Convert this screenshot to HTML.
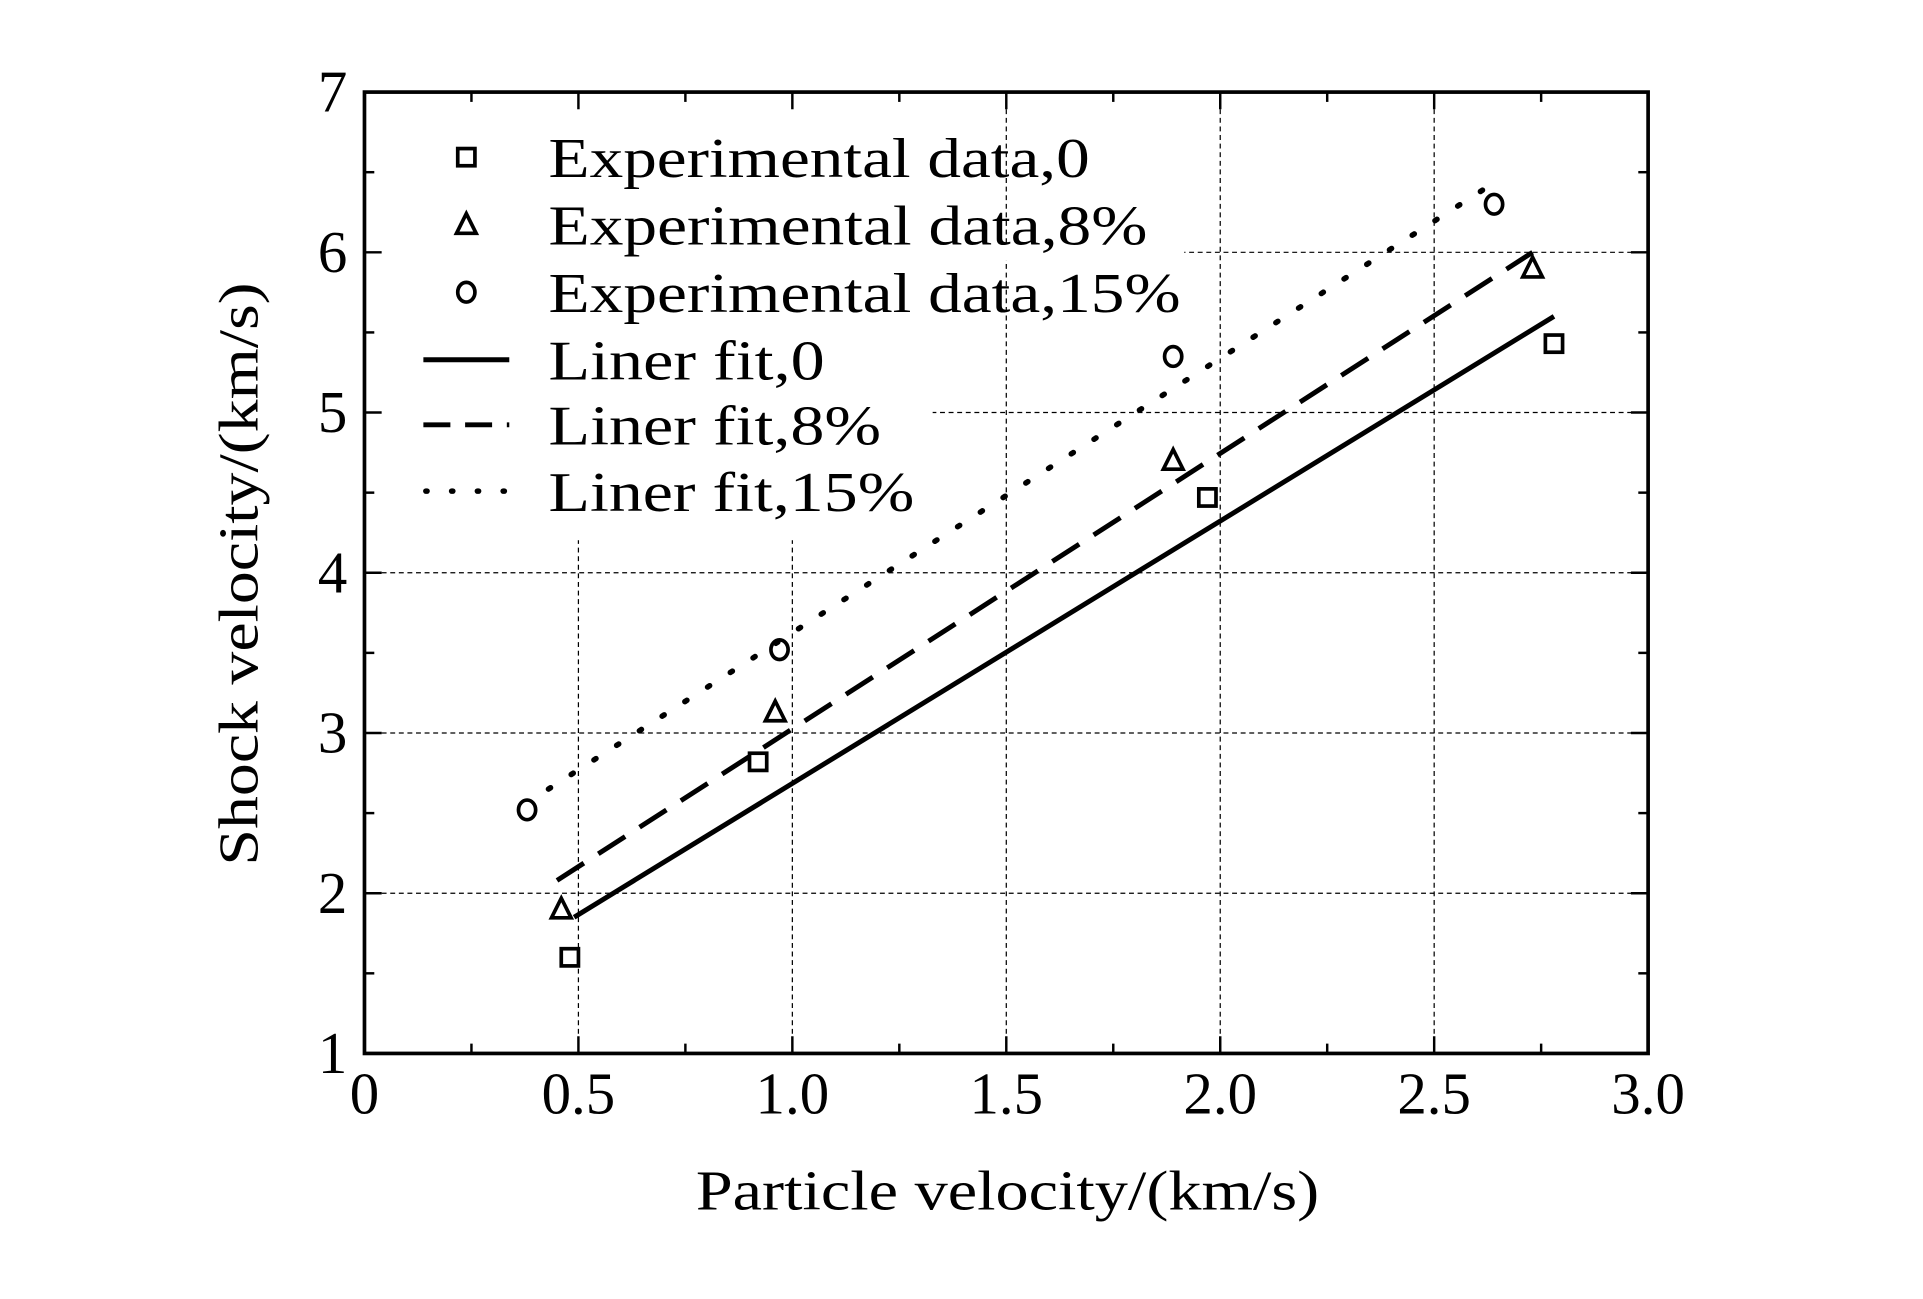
<!DOCTYPE html>
<html><head><meta charset="utf-8"><style>html,body{margin:0;padding:0;background:#fff}svg{display:block}</style></head>
<body>
<svg width="1923" height="1299" viewBox="0 0 1567 1058" preserveAspectRatio="none" xmlns="http://www.w3.org/2000/svg" font-family="'Liberation Serif', serif">
<g id="grid"></g>
<g id="marks"></g>
<g id="legend"></g>
<g id="axes"></g>
<text x="567" y="985" font-size="46" textLength="508" lengthAdjust="spacingAndGlyphs">Particle velocity/(km/s)</text>
<text transform="translate(210,705) rotate(-90)" font-size="46" textLength="475" lengthAdjust="spacingAndGlyphs">Shock velocity/(km/s)</text>
</svg>
<script>
const sqX=[0.48,0.92,1.97,2.78], sqY=[1.6,2.82,4.47,5.43];
const trX=[0.46,0.96,1.89,2.73], trY=[1.9,3.13,4.7,5.9];
const ciX=[0.38,0.97,1.89,2.64], ciY=[2.52,3.52,5.35,6.3];
const fit0X=[0.49,2.78], fit0Y=[1.85,5.6];
const fit8X=[0.45,2.73], fit8Y=[2.08,6.0];
const fit15X=[0.43,2.62], fit15Y=[2.65,6.4];
const xTicks=["0","0.5","1.0","1.5","2.0","2.5","3.0"];
const yTicks=["1","2","3","4","5","6","7"];
const legendLabels=["Experimental data,0","Experimental data,8%","Experimental data,15%","Liner fit,0","Liner fit,8%","Liner fit,15%"];
const legendWidths=[441,488,515,225,271,298];

const L=297,R=1343,T=75,B=858;
const sx=v=>L+(v/3)*(R-L), sy=v=>B-(v-1)/6*(B-T);
const NS="http://www.w3.org/2000/svg";
function mk(p,tag,a){const e=document.createElementNS(NS,tag);for(const k in a)e.setAttribute(k,a[k]);p.appendChild(e);return e;}
const grid=document.getElementById('grid'),marks=document.getElementById('marks'),leg=document.getElementById('legend'),axes=document.getElementById('axes');
for(let i=1;i<6;i++){const g=mk(grid,'line',{x1:sx(i*0.5),x2:sx(i*0.5),y1:T,y2:B,stroke:'#000','stroke-width':1,'stroke-dasharray':'4 3'});
}
for(let v=2;v<=6;v++){const g=mk(grid,'line',{x1:L,x2:R,y1:sy(v),y2:sy(v),stroke:'#000','stroke-width':1,'stroke-dasharray':'4 3'});
}
mk(grid,'rect',{x:L,y:T,width:463,height:365,fill:'#fff'});
mk(grid,'rect',{x:L,y:200,width:668,height:12,fill:'#fff'});
function fit(X,Y,dash,name,w){const l=mk(marks,'line',{x1:sx(X[0]),y1:sy(Y[0]),x2:sx(X[1]),y2:sy(Y[1]),stroke:'#000','stroke-width':w,'stroke-dasharray':dash,'stroke-linecap':dash==='2 20'?'round':'butt'});
}
fit(fit0X,fit0Y,'none','fit-line-0',4);
fit(fit8X,fit8Y,'26 14','fit-line-8',4);
fit(fit15X,fit15Y,'2 20','fit-line-15',4.5);
function sq(p,x,y){return mk(p,'rect',{x:x-7,y:y-7,width:14,height:14,fill:'none',stroke:'#000','stroke-width':3});}
function tr(p,x,y){return mk(p,'polygon',{points:`${x},${y-9} ${x-8},${y+7} ${x+8},${y+7}`,fill:'none',stroke:'#000','stroke-width':3});}
function ci(p,x,y){return mk(p,'ellipse',{cx:x,cy:y,rx:7,ry:8,fill:'none',stroke:'#000','stroke-width':3});}
sqX.forEach((v,i)=>{const e=sq(marks,sx(v),sy(sqY[i]));});
trX.forEach((v,i)=>{const e=tr(marks,sx(v),sy(trY[i]));});
ciX.forEach((v,i)=>{const e=ci(marks,sx(v),sy(ciY[i]));});
const ly=[128,183,238,293,346,400];
legendLabels.forEach((t,i)=>{const y=ly[i];let m;
if(i===0)m=sq(leg,380,y);else if(i===1)m=tr(leg,380,y);else if(i===2)m=ci(leg,380,y);
else if(i===3)m=mk(leg,'line',{x1:345,x2:415,y1:y,y2:y,stroke:'#000','stroke-width':4});
else if(i===4)m=mk(leg,'line',{x1:345,x2:415,y1:y,y2:y,stroke:'#000','stroke-width':4,'stroke-dasharray':'22 12'});
else m=mk(leg,'line',{x1:347,x2:415,y1:y,y2:y,stroke:'#000','stroke-width':4.5,'stroke-dasharray':'1 20','stroke-linecap':'round'});

const tx=mk(leg,'text',{x:447,y:y+16,'font-size':46,textLength:legendWidths[i],lengthAdjust:'spacingAndGlyphs'});tx.textContent=t;
});
const fr=mk(axes,'rect',{x:L,y:T,width:R-L,height:B-T,fill:'none',stroke:'#000','stroke-width':3});

for(let k=0;k<=12;k++){const x=sx(k*0.25),len=k%2?8:14;
mk(axes,'line',{x1:x,x2:x,y1:B,y2:B-len,stroke:'#000','stroke-width':2});
mk(axes,'line',{x1:x,x2:x,y1:T,y2:T+len,stroke:'#000','stroke-width':2});}
for(let k=0;k<=12;k++){const y=sy(1+k*0.5),len=k%2?8:14;
mk(axes,'line',{x1:L,x2:L+len,y1:y,y2:y,stroke:'#000','stroke-width':2});
mk(axes,'line',{x1:R,x2:R-len,y1:y,y2:y,stroke:'#000','stroke-width':2});}
xTicks.forEach((t,i)=>{const e=mk(axes,'text',{x:sx(i*0.5),y:907,'font-size':48,'text-anchor':'middle'});e.textContent=t;
});
yTicks.forEach((t,i)=>{const e=mk(axes,'text',{x:283,y:sy(i+1)+16,'font-size':48,'text-anchor':'end'});e.textContent=t;
});
</script>
</body></html>
